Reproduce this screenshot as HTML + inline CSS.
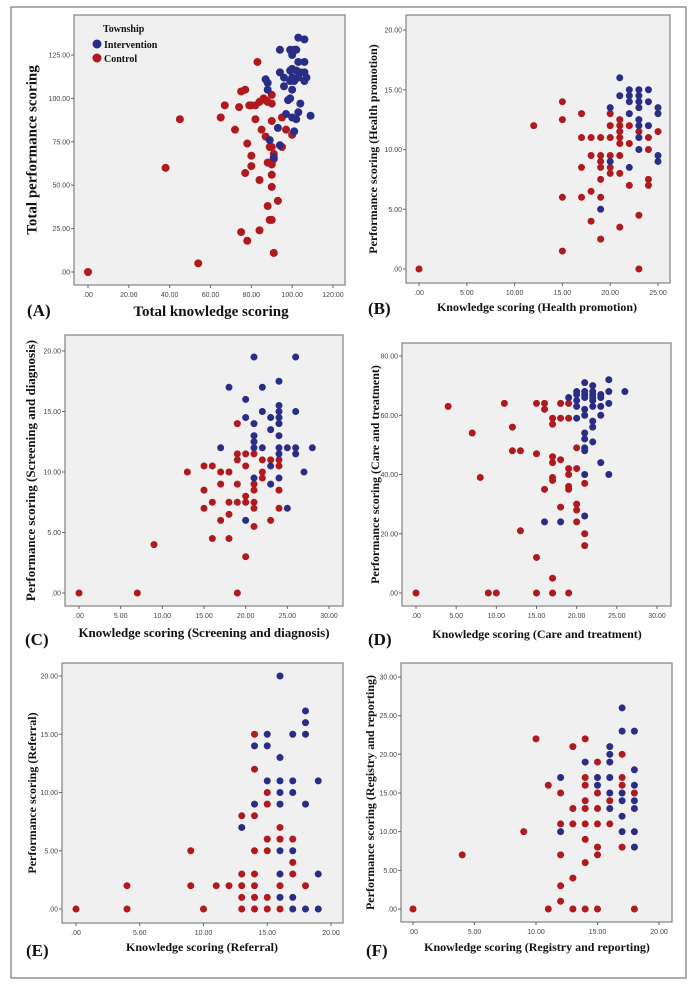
<!DOCTYPE html>
<html><head><meta charset="utf-8"><style>
html,body{margin:0;padding:0;background:#fff;}
svg{display:block;}
.tk{font-family:"Liberation Sans",sans-serif;font-size:7px;fill:#444;}
.tt{font-family:"Liberation Serif",serif;font-weight:bold;fill:#111;}
.pl{font-family:"Liberation Serif",serif;font-weight:bold;font-size:17px;fill:#111;}
</style></head><body>
<svg id="fig" width="698" height="988" xmlns="http://www.w3.org/2000/svg">
<rect x="11" y="7" width="675" height="971" fill="#fff" stroke="#777" stroke-width="1.2"/>
</svg>
<script>
// Panel A
const aBlue=[[103,135],[106,134],[94,128],[99,128],[101,128],[102,128],[100,125],[103,121],[106,121],[100,117],[99,116],[102,116],[104,115],[106,115],[94,115],[96,112],[100,112],[103,112],[107,112],[99,110],[101,110],[106,110],[87,111],[88,109],[96,107],[100,105],[88,105],[99,100],[98,99],[104,97],[103,92],[97,91],[100,89],[102,88],[109,90],[101,81],[93,83],[89,76],[94,73],[91,66]];
const aRed=[[83,121],[77,105],[75,104],[86,100],[87,99],[88,98],[84,98],[90,102],[90,97],[67,96],[74,95],[79,96],[80,96],[82,96],[65,89],[82,88],[45,88],[95,89],[90,87],[72,82],[85,82],[97,82],[100,79],[87,78],[78,74],[89,72],[90,72],[95,72],[91,68],[80,67],[91,65],[88,63],[89,63],[90,62],[80,61],[77,57],[38,60],[90,56],[84,53],[90,49],[93,41],[88,38],[89,30],[90,30],[75,23],[84,24],[78,18],[91,11],[54,5],[0,0]];
const aXTicks=[0,20,40,60,80,100,120];
const aYTicks=[0,25,50,75,100,125];
// Panel B
const bBlue=[[21,16],[21,14.5],[22,15],[22,14.5],[22,14],[23,15],[23,14.5],[23,14],[23,13.5],[24,15],[24,14],[20,13.5],[22,13],[25,13.5],[25,13],[23,12.5],[23,12],[24,12],[23,11],[23,10],[25,9.5],[25,9],[22,8.5],[20,9],[19,5]];
const bRed=[[15,14],[15,12.5],[12,12],[17,13],[20,13],[20,12],[21,12.5],[21,12],[21,11.5],[21,11],[21,10.5],[22,12],[22,10.5],[23,11.5],[24,11],[24,10],[25,11.5],[17,11],[18,11],[19,11],[20,11],[18,9.5],[19,9.5],[19,9],[19,8.5],[20,9.5],[20,8.5],[20,8],[21,9.5],[21,8],[17,8.5],[19,7.5],[22,7],[24,7.5],[24,7],[15,6],[17,6],[18,6.5],[19,6],[18,4],[21,3.5],[19,2.5],[23,4.5],[15,1.5],[23,0],[0,0]];
const bXTicks=[0,5,10,15,20,25];
const bYTicks=[0,5,10,15,20];
// Panel C
const cBlue=[[21,19.5],[26,19.5],[18,17],[22,17],[24,17.5],[20,16],[24,15.5],[24,15],[22,15],[26,15],[20,14.5],[23,14.5],[24,14.5],[21,14],[24,14],[23,13.5],[21,13],[24,13],[21,12.5],[17,12],[21,12],[22,12],[24,12],[25,12],[26,12],[28,12],[24,11.5],[26,11.5],[23,10.5],[27,10],[21,9.5],[24,9.5],[23,9],[25,7],[20,6]];
const cRed=[[19,14],[19,11.5],[19,11],[20,11.5],[21,11.5],[22,11],[23,11],[24,11],[24,10.5],[15,10.5],[16,10.5],[20,10.5],[13,10],[17,10],[18,10],[22,10],[22,9.5],[17,9],[19,9],[21,9],[21,8.5],[15,8.5],[24,8.5],[20,8],[16,7.5],[18,7.5],[19,7.5],[20,7.5],[21,7.5],[15,7],[21,7],[24,7],[17,6],[23,6],[18,6.5],[21,5.5],[16,4.5],[18,4.5],[9,4],[20,3],[0,0],[7,0],[19,0]];
const cXTicks=[0,5,10,15,20,25,30];
const cYTicks=[0,5,10,15,20];
// Panel D
const dBlue=[[21,71],[24,72],[22,70],[20,68],[21,68],[22,68],[24,68],[26,68],[19,66],[20,67],[21,67],[22,67],[23,67],[21,66],[22,66],[23,66],[20,65],[22,65],[20,63],[22,63],[23,63],[24,64],[21,62],[20,59],[21,60],[23,60],[22,58],[22,56],[21,54],[21,52],[22,51],[21,49],[21,48],[23,44],[21,40],[24,40],[21,26],[16,24],[18,24]];
const dRed=[[4,63],[11,64],[15,64],[16,64],[16,62],[18,64],[19,64],[17,59],[18,59],[19,59],[17,57],[12,56],[7,54],[20,49],[12,48],[13,48],[15,47],[17,46],[17,44],[18,45],[19,42],[20,42],[19,40],[8,39],[17,39],[17,38],[21,37],[16,35],[19,36],[19,35],[18,29],[20,30],[20,28],[20,24],[13,21],[21,20],[21,16],[15,12],[17,5],[0,0],[9,0],[10,0],[15,0],[17,0],[19,0]];
const dXTicks=[0,5,10,15,20,25,30];
const dYTicks=[0,20,40,60,80];
// Panel E
const eBlue=[[16,20],[18,17],[18,16],[15,15],[17,15],[18,15],[14,14],[15,14],[16,13],[15,11],[16,11],[17,11],[19,11],[16,10],[17,10],[14,9],[16,9],[18,9],[13,7],[16,5],[17,5],[16,3],[19,3],[16,1],[17,1],[17,0],[18,0],[19,0]];
const eRed=[[14,15],[14,12],[15,10],[15,9],[13,8],[14,8],[16,7],[15,6],[16,6],[17,6],[9,5],[14,5],[15,5],[17,4],[13,3],[14,3],[17,3],[4,2],[9,2],[11,2],[12,2],[13,2],[14,2],[16,2],[18,2],[13,1],[14,1],[15,1],[0,0],[4,0],[10,0],[13,0],[14,0],[15,0],[16,0]];
const eXTicks=[0,5,10,15,20];
const eYTicks=[0,5,10,15,20];
// Panel F
const fBlue=[[17,26],[17,23],[18,23],[16,21],[16,20],[14,19],[16,19],[18,18],[12,17],[15,17],[16,17],[15,16],[18,16],[16,15],[17,15],[17,14],[18,14],[16,13],[18,13],[17,12],[12,10],[17,10],[18,10],[18,8]];
const fRed=[[10,22],[14,22],[13,21],[17,20],[15,19],[14,17],[17,17],[11,16],[14,16],[17,16],[12,15],[15,15],[18,15],[14,14],[16,14],[13,13],[14,13],[15,13],[12,11],[13,11],[14,11],[15,11],[16,11],[9,10],[14,9],[15,8],[17,8],[4,7],[12,7],[15,7],[14,6],[13,4],[12,3],[12,1],[0,0],[11,0],[13,0],[14,0],[15,0],[18,0]];
const fXTicks=[0,5,10,15,20];
const fYTicks=[0,5,10,15,20,25,30];

const NS='http://www.w3.org/2000/svg';
const svg=document.getElementById('fig');
function mk(tag,attrs,parent){const e=document.createElementNS(NS,tag);for(const k in attrs)e.setAttribute(k,attrs[k]);(parent||svg).appendChild(e);return e;}
function fmt(v){return v===0?'.00':v.toFixed(2);}

const panels=[
 {id:'a',box:[74,15,345,285],xr:[88,333,0,120],yr:[272,55,0,125],xt:aXTicks,yt:aYTicks,blue:aBlue,red:aRed,xl:'Total knowledge scoring',yl:'Total performance scoring',lab:'(A)',lx:27,ly:316,tx:211,ty:316,ycx:33,fs:15,r:4},
 {id:'b',box:[406,15,670,283],xr:[419,658,0,25],yr:[269,30,0,20],xt:bXTicks,yt:bYTicks,blue:bBlue,red:bRed,xl:'Knowledge scoring (Health promotion)',yl:'Performance scoring (Health promotion)',lab:'(B)',lx:368,ly:314,tx:537,ty:311,ycx:374,fs:12,r:3.5},
 {id:'c',box:[65,335,343,606],xr:[79,329,0,30],yr:[593,351,0,20],xt:cXTicks,yt:cYTicks,blue:cBlue,red:cRed,xl:'Knowledge scoring (Screening and diagnosis)',yl:'Performance scoring (Screening and diagnosis)',lab:'(C)',lx:25,ly:645,tx:204,ty:637,ycx:32,fs:13,r:3.5},
 {id:'d',box:[402,343,671,606],xr:[416,657,0,30],yr:[593,356,0,80],xt:dXTicks,yt:dYTicks,blue:dBlue,red:dRed,xl:'Knowledge scoring (Care and treatment)',yl:'Performance scoring (Care and treatment)',lab:'(D)',lx:368,ly:645,tx:537,ty:638,ycx:376,fs:12,r:3.5},
 {id:'e',box:[62,663,343,923],xr:[76,331,0,20],yr:[909,676,0,20],xt:eXTicks,yt:eYTicks,blue:eBlue,red:eRed,xl:'Knowledge scoring (Referral)',yl:'Performance scoring (Referral)',lab:'(E)',lx:26,ly:956,tx:202,ty:951,ycx:33,fs:12,r:3.5},
 {id:'f',box:[401,663,672,922],xr:[413,659,0,20],yr:[909,677,0,30],xt:fXTicks,yt:fYTicks,blue:fBlue,red:fRed,xl:'Knowledge scoring (Registry and reporting)',yl:'Performance scoring (Registry and reporting)',lab:'(F)',lx:366,ly:956,tx:537,ty:951,ycx:371,fs:12,r:3.5}
];

panels.forEach(p=>{
 const g=mk('g',{});
 
 
 const sx=v=>p.xr[0]+(v-p.xr[2])/(p.xr[3]-p.xr[2])*(p.xr[1]-p.xr[0]);
 const sy=v=>p.yr[0]+(v-p.yr[2])/(p.yr[3]-p.yr[2])*(p.yr[1]-p.yr[0]);
 const [x0,y0,x1,y1]=p.box;
 const bg=mk('rect',{x:x0,y:y0,width:x1-x0,height:y1-y0,fill:'#f0f0f0',stroke:'#8a8a8a','stroke-width':1.3},g);
 
 
 p.xt.forEach(v=>{
  const x=sx(v);
  mk('line',{x1:x,x2:x,y1:y1,y2:y1+3,stroke:'#666'},g);
  const t=mk('text',{x:x,y:y1+12,'text-anchor':'middle',class:'tk'},g);t.textContent=fmt(v);
  
  
 });
 p.yt.forEach(v=>{
  const y=sy(v);
  mk('line',{x1:x0-3,x2:x0,y1:y,y2:y,stroke:'#666'},g);
  const t=mk('text',{x:x0-4,y:y+2.5,'text-anchor':'end',class:'tk'},g);t.textContent=fmt(v);
  
  
 });
 p.red.forEach(d=>{
  const c=mk('circle',{cx:sx(d[0]),cy:sy(d[1]),r:p.r,fill:'#b0191e'},g);
  
  
 });
 p.blue.forEach(d=>{
  const c=mk('circle',{cx:sx(d[0]),cy:sy(d[1]),r:p.r,fill:'#2a2d86'},g);
  
  
 });
 const xt=mk('text',{x:p.tx,y:p.ty,'text-anchor':'middle',class:'tt','font-size':p.fs},g);xt.textContent=p.xl;
 
 
 const cy=(y0+y1)/2;
 const yt=mk('text',{x:p.ycx,y:cy,'text-anchor':'middle',class:'tt','font-size':p.fs,transform:'rotate(-90 '+p.ycx+' '+cy+')','dominant-baseline':'middle'},g);yt.textContent=p.yl;
 
 
 const lb=mk('text',{x:p.lx,y:p.ly,class:'pl'},g);lb.textContent=p.lab;
 
 
});

// legend in panel A
const lg=mk('g',{});


const lt=mk('text',{x:103,y:32,class:'tt','font-size':10},lg);lt.textContent='Township';


mk('circle',{cx:97,cy:44,r:4.5,fill:'#2a2d86'},lg);
const l1=mk('text',{x:104,y:48,class:'tt','font-size':10},lg);l1.textContent='Intervention';


mk('circle',{cx:97,cy:58,r:4.5,fill:'#b0191e'},lg);
const l2=mk('text',{x:104,y:62,class:'tt','font-size':10},lg);l2.textContent='Control';


</script>
</body></html>
